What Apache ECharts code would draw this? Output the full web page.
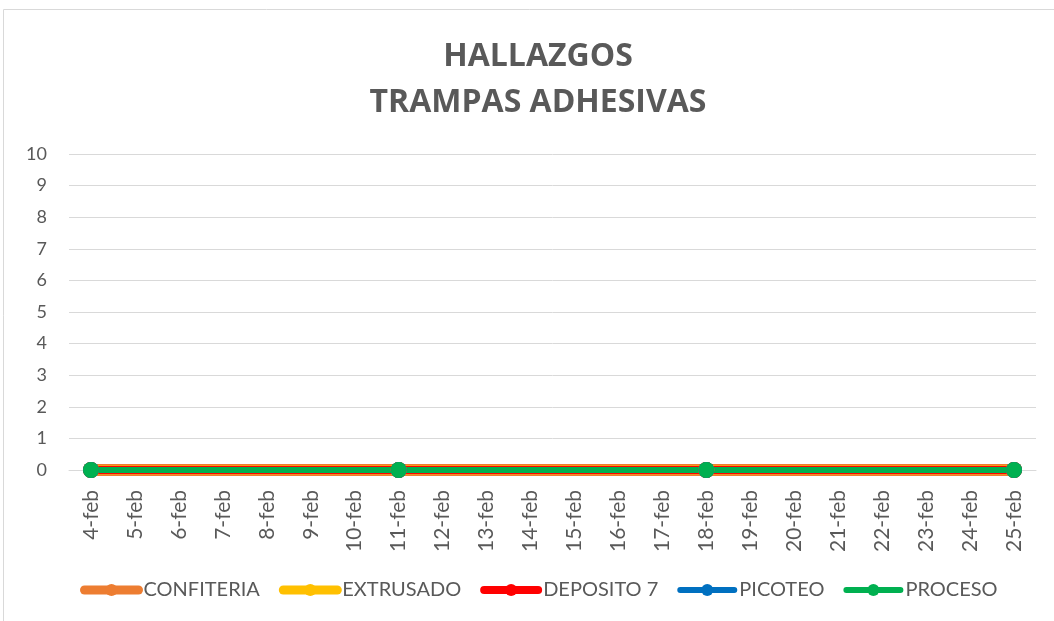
<!DOCTYPE html>
<html>
<head>
<meta charset="utf-8">
<script src="https://cdn.jsdelivr.net/npm/echarts@6/dist/echarts.min.js"></script>
<style>
  html, body { margin: 0; padding: 0; background: #fff; }
  #chart { width: 1054px; height: 621px; }
</style>
</head>
<body>
<div id="chart"></div>
<script>
const categories = [
  "4-feb", "5-feb", "6-feb", "7-feb", "8-feb", "9-feb", "10-feb",
  "11-feb", "12-feb", "13-feb", "14-feb", "15-feb", "16-feb", "17-feb",
  "18-feb", "19-feb", "20-feb", "21-feb", "22-feb", "23-feb", "24-feb",
  "25-feb",
];

// only the weekly readings (4, 11, 18, 25 feb) have values
const confiteria = [0, null, null, null, null, null, null, 0, null, null, null, null, null, null, 0, null, null, null, null, null, null, 0];
const extrusado = [0, null, null, null, null, null, null, 0, null, null, null, null, null, null, 0, null, null, null, null, null, null, 0];
const deposito7 = [0, null, null, null, null, null, null, 0, null, null, null, null, null, null, 0, null, null, null, null, null, null, 0];
const picoteo = [0, null, null, null, null, null, null, 0, null, null, null, null, null, null, 0, null, null, null, null, null, null, 0];
const proceso = [0, null, null, null, null, null, null, 0, null, null, null, null, null, null, 0, null, null, null, null, null, null, 0];

const seriesDefs = [
  { name: "CONFITERIA", data: confiteria, color: "#ED7D31", width: 12, legendWidth: 9 },
  { name: "EXTRUSADO", data: extrusado, color: "#FFC000", width: 9, legendWidth: 9 },
  { name: "DEPOSITO 7", data: deposito7, color: "#FF0000", width: 8, legendWidth: 8 },
  { name: "PICOTEO", data: picoteo, color: "#0070C0", width: 6, legendWidth: 6 },
  { name: "PROCESO", data: proceso, color: "#00B050", width: 6, legendWidth: 6 },
];

const textColor = "#595959";
const chart = echarts.init(document.getElementById("chart"));

chart.setOption({
  animation: false,
  textStyle: { fontFamily: "Lato, 'Open Sans', sans-serif" },
  graphic: [
    {
      type: "rect",
      shape: { x: 3.5, y: 9.5, width: 1060, height: 630 },
      style: { fill: "none", stroke: "#D9D9D9", lineWidth: 1 },
      silent: true,
    },
  ],
  title: {
    text: "HALLAZGOS\nTRAMPAS ADHESIVAS",
    left: 533,
    textAlign: "center",
    top: 29,
    textStyle: {
      color: textColor,
      fontSize: 32,
      fontWeight: "bold",
      lineHeight: 46,
      fontFamily: "'Open Sans', sans-serif",
    },
  },
  grid: {
    left: 69,
    right: 18,
    top: 154,
    bottom: 151,
  },
  legend: {
    bottom: 16,
    left: 75,
    itemWidth: 54,
    itemHeight: 15,
    itemGap: 19,
    textStyle: { color: textColor, fontSize: 20 },
    data: seriesDefs.map((s) => ({
      name: s.name,
      lineStyle: { width: s.legendWidth, cap: "round" },
    })),
  },
  xAxis: {
    type: "category",
    boundaryGap: true,
    data: categories,
    axisLine: { lineStyle: { color: "#D9D9D9", width: 1 } },
    axisTick: { show: false },
    axisLabel: {
      interval: 0,
      rotate: 90,
      margin: 20,
      color: textColor,
      fontSize: 21,
    },
  },
  yAxis: {
    type: "value",
    min: 0,
    max: 10,
    interval: 1,
    axisLine: { show: false },
    axisTick: { show: false },
    axisLabel: { color: textColor, fontSize: 18, margin: 22 },
    splitLine: { lineStyle: { color: "#D9D9D9", width: 1 } },
  },
  series: seriesDefs.map((s) => ({
    name: s.name,
    type: "line",
    data: s.data,
    connectNulls: true,
    symbol: "circle",
    symbolSize: 16,
    showAllSymbol: true,
    color: s.color,
    lineStyle: { color: s.color, width: s.width, cap: "round" },
    itemStyle: { color: s.color, borderWidth: 0 },
  })),
});
</script>
</body>
</html>
